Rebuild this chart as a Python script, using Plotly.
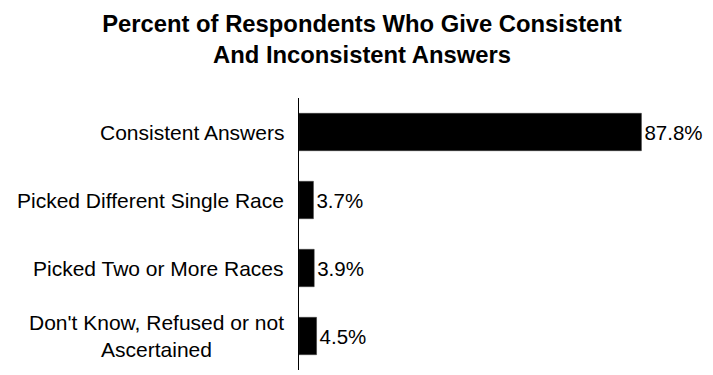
import plotly.graph_objects as go

categories = [
    "Consistent Answers",
    "Picked Different Single Race",
    "Picked Two or More Races",
    "Don't Know, Refused or not<br>Ascertained",
]
values = [87.8, 3.7, 3.9, 4.5]
value_labels = ["87.8%", "3.7%", "3.9%", "4.5%"]
title_text = "Percent of Respondents Who Give Consistent<br>And Inconsistent Answers"

FONT = "Liberation Sans, Arial, sans-serif"

fig = go.Figure(
    go.Bar(
        x=values,
        y=categories,
        orientation="h",
        marker=dict(color="#000000", line=dict(color="#333333", width=0.5)),
        width=0.55,
        text=value_labels,
        textposition="outside",
        textfont=dict(family=FONT, size=20.5, color="#000000"),
        cliponaxis=False,
        hoverinfo="skip",
    )
)

annotations = [
    dict(
        x=0, xref="paper", y=cat, yref="y",
        text=cat, showarrow=False, xanchor="right", yanchor="middle",
        xshift=-13, align="center",
        font=dict(family=FONT, size=21, color="#000000"),
    )
    for cat in categories
]

fig.update_layout(
    width=713,
    height=375,
    paper_bgcolor="#ffffff",
    plot_bgcolor="#ffffff",
    margin=dict(l=299, r=24, t=98, b=5),
    showlegend=False,
    title=dict(
        text=title_text,
        x=362 / 713, xref="container", xanchor="center",
        y=1 - 32 / 375, yref="container", yanchor="middle",
        font=dict(family=FONT, size=23.8, color="#000000", weight="bold"),
    ),
    xaxis=dict(range=[0, 100], visible=False, fixedrange=True),
    yaxis=dict(
        autorange="reversed",
        showticklabels=False,
        showline=True,
        linecolor="#000000",
        linewidth=1,
        ticks="",
        showgrid=False,
        zeroline=False,
        fixedrange=True,
    ),
    annotations=annotations,
    bargap=0.45,
)

fig.write_html(
    "out.html",
    config={"displayModeBar": False, "staticPlot": True},
    post_script="document.body.style.margin='0';document.body.style.padding='0';",
)
